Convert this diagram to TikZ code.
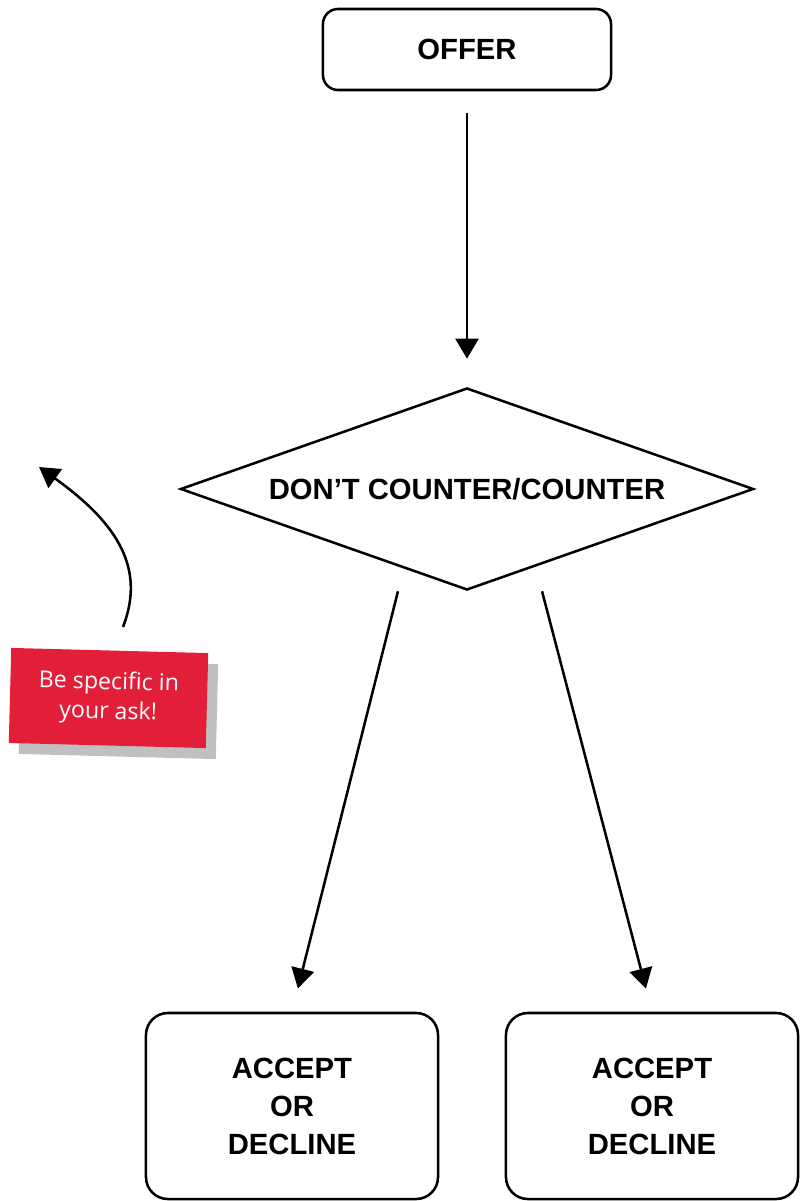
\documentclass[tikz,border=0pt]{standalone}
\usepackage{fontspec}
\setmainfont{Liberation Sans}
\newfontfamily\asknotefont{Open Sans}
\usetikzlibrary{arrows.meta,shapes.geometric,shadows}
\definecolor{asknotered}{rgb}{0.8902,0.1176,0.2196}
\definecolor{asknoteshadow}{rgb}{0.7529,0.7529,0.7529}

\begin{document}
\begin{tikzpicture}[x=0.025cm,y=-0.025cm,
  stepbox/.style={draw,line width=1.8pt,align=center,inner sep=0pt,font=\bfseries\fontsize{20.8}{27}\selectfont},
  flow/.style={line width=1.8pt,-{Triangle[length=0.5cm,width=0.575cm]}}]
\useasboundingbox (0,0) rectangle (805,1201);
% boxes
\node[stepbox,rounded corners=0.375cm,minimum width=7.2cm,minimum height=2.025cm] (offer) at (467,49.5) {OFFER};
\node[stepbox,diamond,aspect=2.837,minimum width=14.325cm,minimum height=5.05cm] (dec) at (467,489) {DON’T COUNTER/COUNTER};
\node[stepbox,rounded corners=0.55cm,minimum width=7.3cm,minimum height=4.65cm] (acc1) at (292,1106) {ACCEPT\\OR\\DECLINE};
\node[stepbox,rounded corners=0.55cm,minimum width=7.3cm,minimum height=4.65cm] (acc2) at (652,1106) {ACCEPT\\OR\\DECLINE};
% arrows
\draw[flow,shorten <=0.55cm,shorten >=0.7cm] (offer) -- (dec);
\draw[flow,shorten >=0.6cm] ([xshift=-1.725cm]dec.south) -- (acc1.north);
\draw[flow,shorten >=0.6cm] ([xshift=1.875cm]dec.south) -- (acc2.north);
% note
\node[fill=asknotered,rotate=-1.5,minimum width=4.925cm,minimum height=2.375cm,
  drop shadow={shadow xshift=0.25cm,shadow yshift=-0.275cm,fill=asknoteshadow,opacity=1},
  text=white,align=center,font=\asknotefont\fontsize{16.5}{21}\selectfont] (asknote) at (108.5,698) {Be specific in\\your ask!};
\coordinate (askfrom) at (123,627);
\coordinate (askto) at (39,467);
\draw[flow] (askfrom) .. controls (145,570) and (120,525) .. (askto);
\end{tikzpicture}
\end{document}
